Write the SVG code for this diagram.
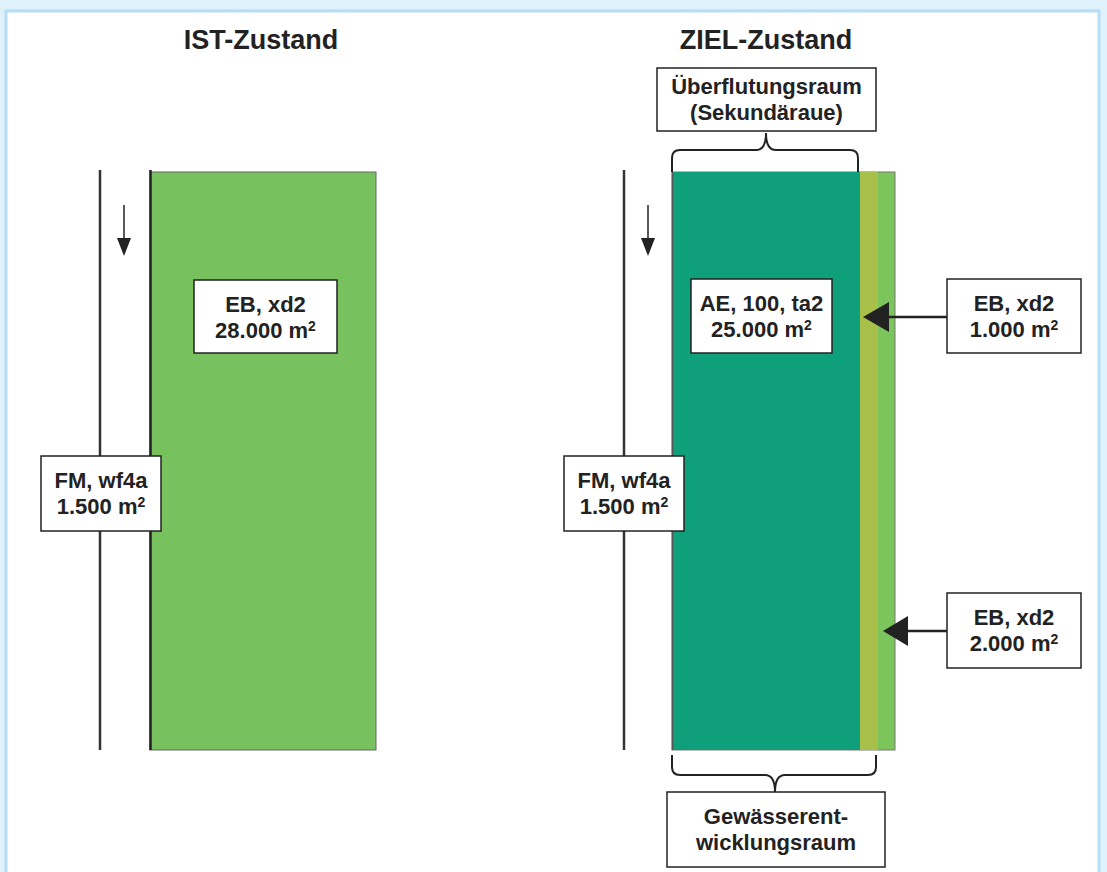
<svg xmlns="http://www.w3.org/2000/svg" width="1107" height="872" viewBox="0 0 1107 872">
<defs>
<style>
.t{font-family:"Liberation Sans",Arial,sans-serif;font-weight:bold;fill:#222;text-anchor:middle}
.title{font-size:27px}
.lbl{font-size:22px}
.sup{font-size:14px}
.box{fill:#fff;stroke:#222;stroke-width:1.5}
.line{stroke:#333;stroke-width:2.5;fill:none}
.brace{stroke:#222;stroke-width:2;fill:none}
.head{fill:#222}
</style>
</defs>
<rect x="0" y="0" width="1107" height="872" fill="#dff1fa"/>
<rect x="6" y="11" width="1093" height="870" fill="#fff" stroke="#b5def4" stroke-width="3"/>

<g id="title-ist"><text class="t title" x="261" y="49">IST-Zustand</text></g>
<g id="title-ziel"><text class="t title" x="766" y="49">ZIEL-Zustand</text></g>

<g id="ist-area">
<line class="line" x1="100" y1="170" x2="100" y2="750"/>
<rect x="150" y="172" width="226" height="578" fill="#77c15f" stroke="#666" stroke-width="1"/>
<line x1="150.5" y1="170" x2="150.5" y2="750" stroke="#222" stroke-width="2.5"/>
<line x1="124" y1="205" x2="124" y2="240" stroke="#222" stroke-width="1.5"/>
<path class="head" d="M117,238 L131,238 L124,256 Z"/>
</g>

<g id="ziel-area">
<line class="line" x1="624" y1="170" x2="624" y2="750"/>
<rect x="672" y="172" width="223" height="578" fill="#7cc45c" stroke="#777" stroke-width="1"/>
<rect x="672" y="172" width="206" height="578" fill="#a8bf4a"/>
<rect x="672" y="172" width="188" height="578" fill="#0f9f7a"/>
<line x1="672.5" y1="172" x2="672.5" y2="750" stroke="#555" stroke-width="1.5"/>
<line x1="648" y1="205" x2="648" y2="240" stroke="#222" stroke-width="1.5"/>
<path class="head" d="M641,238 L655,238 L648,256 Z"/>
</g>

<g id="node-eb-ist">
<rect class="box" x="194" y="280" width="143" height="73"/>
<text class="t lbl" x="265.5" y="312">EB, xd2</text>
<text class="t lbl" x="265.5" y="338">28.000 m<tspan class="sup" dy="-7">2</tspan></text>
</g>

<g id="node-fm-ist">
<rect class="box" x="41" y="456" width="120" height="75"/>
<text class="t lbl" x="101" y="488">FM, wf4a</text>
<text class="t lbl" x="101" y="514">1.500 m<tspan class="sup" dy="-7">2</tspan></text>
</g>

<g id="node-ueberflutung">
<rect class="box" x="657" y="68" width="219" height="63"/>
<text class="t lbl" x="766.5" y="94">Überflutungsraum</text>
<text class="t lbl" x="766.5" y="120">(Sekundäraue)</text>
</g>

<g id="node-ae">
<rect class="box" x="691" y="279" width="141" height="74"/>
<text class="t lbl" x="761.5" y="311">AE, 100, ta2</text>
<text class="t lbl" x="761.5" y="337">25.000 m<tspan class="sup" dy="-7">2</tspan></text>
</g>

<g id="node-fm-ziel">
<rect class="box" x="564" y="456" width="120" height="75"/>
<text class="t lbl" x="624" y="488">FM, wf4a</text>
<text class="t lbl" x="624" y="514">1.500 m<tspan class="sup" dy="-7">2</tspan></text>
</g>

<g id="node-eb-1000">
<rect class="box" x="947" y="279" width="134" height="74"/>
<text class="t lbl" x="1014" y="311">EB, xd2</text>
<text class="t lbl" x="1014" y="337">1.000 m<tspan class="sup" dy="-7">2</tspan></text>
</g>

<g id="node-eb-2000">
<rect class="box" x="947" y="593" width="134" height="75"/>
<text class="t lbl" x="1014" y="625">EB, xd2</text>
<text class="t lbl" x="1014" y="651">2.000 m<tspan class="sup" dy="-7">2</tspan></text>
</g>

<g id="node-gewaesser">
<rect class="box" x="667" y="792" width="218" height="75"/>
<text class="t lbl" x="776" y="824">Gewässerent-</text>
<text class="t lbl" x="776" y="850">wicklungsraum</text>
</g>

<g id="connectors">
<path class="brace" d="M672,172 V158 Q672,150 680,150 H756 Q766,150 766,133 Q766,150 776,150 H850 Q858,150 858,158 V172"/>
<path class="brace" d="M672,755 V767 Q672,775 680,775 H765 Q775,775 775,792 Q775,775 785,775 H868 Q876,775 876,767 V755"/>
<line x1="947" y1="317" x2="885" y2="317" stroke="#222" stroke-width="2.5"/>
<path class="head" d="M863,317 L889,302 L889,332 Z"/>
<line x1="947" y1="631" x2="905" y2="631" stroke="#222" stroke-width="2.5"/>
<path class="head" d="M883,631 L908,616 L908,646 Z"/>
</g>
</svg>
